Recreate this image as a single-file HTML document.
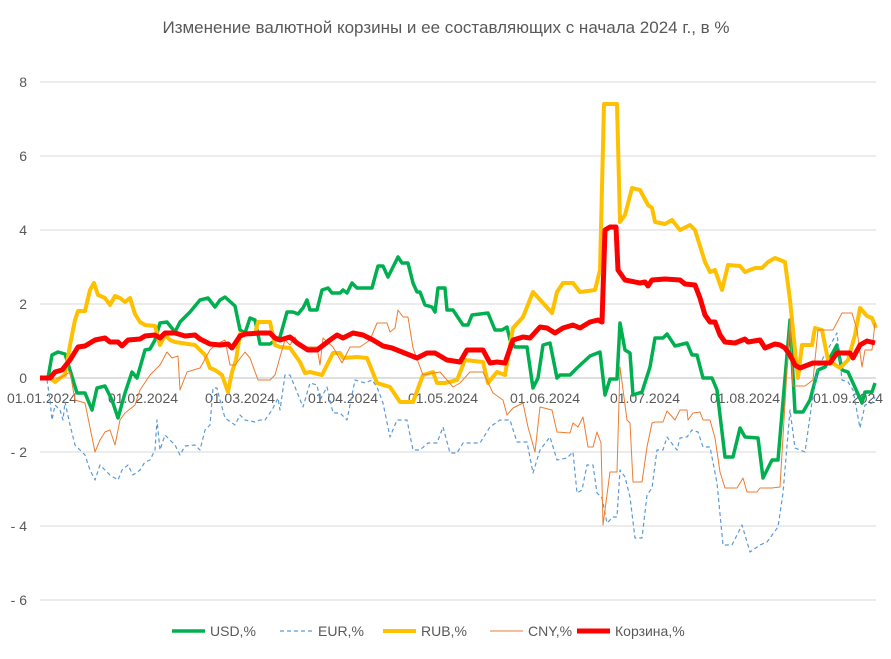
<!DOCTYPE html>
<html><head><meta charset="utf-8"><style>
body{margin:0;background:#fff;}
svg text{font-family:"Liberation Sans",sans-serif;fill:#595959;}
</style></head><body>
<svg width="891" height="654" xmlns="http://www.w3.org/2000/svg">
<rect width="891" height="654" fill="#fff"/>
<text x="446" y="33" font-size="17" text-anchor="middle">Изменение валютной корзины и ее составляющих с начала 2024 г., в %</text>
<g stroke="#d9d9d9" stroke-width="1">
<line x1="40" x2="876" y1="82" y2="82"/><line x1="40" x2="876" y1="156" y2="156"/>
<line x1="40" x2="876" y1="230" y2="230"/><line x1="40" x2="876" y1="304" y2="304"/>
<line x1="40" x2="876" y1="452" y2="452"/><line x1="40" x2="876" y1="526" y2="526"/>
<line x1="40" x2="876" y1="600" y2="600"/>
</g>
<line x1="40" x2="876" y1="378" y2="378" stroke="#bfbfbf"/>
<g font-size="14" text-anchor="end">
<text x="27" y="87">8</text><text x="27" y="161">6</text><text x="27" y="235">4</text><text x="27" y="309">2</text><text x="27" y="383">0</text><text x="27" y="457">- 2</text><text x="27" y="531">- 4</text><text x="27" y="605">- 6</text>
</g>
<g font-size="14" text-anchor="middle">
<text x="42" y="403">01.01.2024</text><text x="143" y="403">01.02.2024</text><text x="240" y="403">01.03.2024</text><text x="343" y="403">01.04.2024</text><text x="443" y="403">01.05.2024</text><text x="545" y="403">01.06.2024</text><text x="645" y="403">01.07.2024</text><text x="745" y="403">01.08.2024</text><text x="848" y="403">01.09.2024</text>
</g>
<g fill="none" stroke-linejoin="round">
<polyline stroke="#00b050" stroke-width="3.5" points="40,378 48,378 52,355 58,352 65,354 70,370 77,393 85,393 92,410 97,388 105,386 112,400 118,418 125,393 132,372 137,378 145,350 150,349 155,340 160,323 167,322 175,332 180,322 190,312 200,300 208,298 215,307 220,300 225,297 235,306 240,330 245,333 250,318 255,320 260,344 270,344 280,337 287,312 293,312 298,314 303,308 307,300 310,310 317,310 322,290 328,288 332,293 340,293 343,290 347,293 352,283 357,288 372,288 378,266 383,266 388,277 398,257 402,263 408,263 413,283 417,292 420,292 425,305 432,307 435,312 438,288 445,288 447,310 453,310 463,325 468,325 472,315 488,313 495,330 502,330 507,327 510,340 515,347 527,347 533,388 538,378 543,345 550,343 557,378 560,375 570,375 577,368 590,356 600,352 605,395 610,379 617,379 620,323 625,350 630,353 633,395 642,392 650,367 655,338 663,338 667,334 675,346 687,343 692,355 697,355 703,378 712,378 717,390 725,457 733,457 740,428 745,437 758,438 763,478 772,460 778,460 790,320 795,412 803,412 810,400 818,370 825,367 837,345 842,370 848,372 853,383 862,403 865,392 872,392 875,383"/>
<polyline stroke="#5b9bd5" stroke-width="1.2" stroke-dasharray="4,3" points="40,378 47,380 50,400 52,420 55,405 60,410 63,420 65,402 70,425 75,445 80,450 85,455 90,470 95,480 100,465 105,470 110,475 118,480 122,470 128,465 133,475 140,470 145,462 150,460 155,450 157,420 160,450 165,435 170,440 175,445 180,455 185,446 195,445 200,450 205,430 210,425 213,388 217,388 220,400 225,418 235,425 240,415 245,420 255,422 260,420 265,420 272,410 278,398 280,410 285,375 290,375 295,387 303,407 310,383 317,385 320,400 327,387 333,413 340,413 347,420 355,380 365,383 372,380 377,387 383,403 390,437 397,420 407,420 413,450 420,450 428,443 437,443 443,427 450,453 457,453 463,443 480,443 490,427 500,420 510,420 517,442 527,442 533,473 540,450 550,437 557,460 567,458 573,452 577,493 582,490 587,465 593,465 597,493 602,498 607,523 613,517 617,517 620,470 625,477 630,497 635,538 642,538 647,495 652,488 657,450 663,450 667,437 677,450 680,438 687,437 692,430 698,432 703,447 710,447 717,483 723,545 732,545 742,525 750,552 760,545 767,542 778,527 783,493 790,410 795,448 805,452 812,402 818,367 837,333 842,380 848,382 853,390 860,428 865,405 872,403 875,397"/>
<polyline stroke="#ffc000" stroke-width="4" points="40,378 50,378 55,382 60,378 65,375 70,345 75,320 78,311 85,311 90,290 94,283 98,295 105,298 110,305 115,296 120,298 125,302 130,298 135,314 140,322 145,325 155,326 160,345 165,335 170,340 175,342 195,345 205,355 210,368 215,370 222,375 228,392 232,372 236,360 240,334 255,334 258,322 270,322 275,345 280,347 290,348 300,362 305,373 310,372 322,375 333,353 340,353 343,358 357,357 367,358 377,383 390,387 400,402 413,402 423,375 433,372 437,383 445,383 457,380 465,360 483,362 488,383 497,372 505,375 513,328 523,317 533,292 543,303 552,313 557,292 563,283 573,283 580,292 595,290 600,270 604,104 617,104 620,222 625,215 632,188 640,190 648,205 652,208 655,222 665,224 672,220 680,230 690,225 695,230 705,262 710,272 715,270 722,290 728,265 740,266 745,272 755,268 762,268 768,262 775,258 785,262 790,300 795,350 798,378 802,345 812,345 815,328 822,330 828,360 840,368 848,360 855,335 860,308 867,316 872,318 876,328"/>
<polyline stroke="#ed7d31" stroke-width="1" points="40,378 60,378 70,372 75,400 85,403 95,452 100,440 105,432 110,430 115,445 120,420 125,413 135,405 140,390 150,375 155,370 160,365 167,352 172,358 178,356 180,390 187,372 200,368 210,350 215,345 225,340 230,365 235,365 245,352 250,358 258,380 270,380 275,375 280,357 285,340 290,345 295,337 300,347 317,347 320,365 323,338 333,347 342,363 350,347 360,347 370,340 377,323 387,323 390,332 395,328 398,310 403,317 408,317 413,348 420,367 423,375 433,373 440,372 447,380 453,387 460,383 470,372 483,372 493,393 503,400 507,415 513,408 523,403 528,427 535,452 540,407 552,410 557,432 570,433 573,423 578,427 583,417 588,447 593,447 597,432 601,443 603,525 610,472 617,472 620,367 627,420 630,423 633,482 642,482 647,447 652,423 655,422 663,422 667,411 675,420 680,410 687,410 688,420 693,413 700,412 703,420 710,420 715,438 720,472 725,488 737,488 743,478 747,492 757,492 760,488 772,488 780,487 790,319 793,386 805,386 813,380 818,330 833,330 842,313 852,313 857,330 862,367 865,350 872,350 875,323"/>
<polyline stroke="#ff0000" stroke-width="5" points="40,378 50,378 55,372 62,370 70,360 78,347 85,346 95,340 105,338 110,342 118,342 122,346 128,340 140,339 145,336 155,335 160,338 165,333 175,333 185,336 195,335 200,339 210,344 220,345 228,344 232,348 240,336 245,334 260,333 270,333 275,338 280,340 290,337 297,343 308,350 317,350 330,340 337,335 343,338 353,333 363,335 373,340 383,346 392,348 402,352 417,358 427,353 435,353 447,360 460,362 467,350 483,350 490,363 497,362 505,363 513,340 523,337 530,338 540,327 547,328 555,333 563,328 573,325 580,328 590,322 598,320 602,322 605,230 610,227 616,227 618,270 625,280 640,283 645,282 648,286 652,280 665,279 680,280 685,284 695,285 700,298 705,315 710,322 715,322 720,335 725,342 735,343 745,339 748,342 760,340 765,348 770,346 775,344 780,345 785,348 790,355 795,365 800,368 813,363 830,363 837,353 850,353 853,358 860,345 867,341 875,343"/>
</g>
<g font-size="14">
<line x1="172" x2="205" y1="631" y2="631" stroke="#00b050" stroke-width="3.5"/><text x="210" y="636">USD,%</text>
<line x1="280" x2="313" y1="631" y2="631" stroke="#5b9bd5" stroke-width="1.2" stroke-dasharray="4,3"/><text x="318" y="636">EUR,%</text>
<line x1="383" x2="416" y1="631" y2="631" stroke="#ffc000" stroke-width="4"/><text x="421" y="636">RUB,%</text>
<line x1="490" x2="523" y1="631" y2="631" stroke="#ed7d31" stroke-width="1"/><text x="528" y="636">CNY,%</text>
<line x1="577" x2="610" y1="631" y2="631" stroke="#ff0000" stroke-width="5"/><text x="615" y="636">Корзина,%</text>
</g>
</svg>
</body></html>
